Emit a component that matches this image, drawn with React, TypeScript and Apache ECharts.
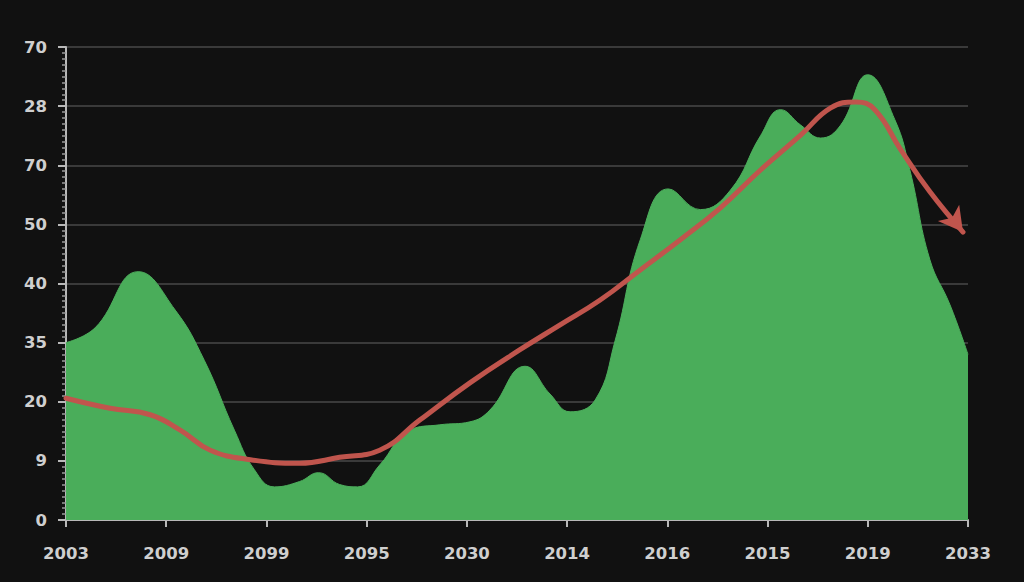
import React, { useEffect, useRef } from "react";
import * as echarts from "echarts";

const xLabels = ["2003", "2009", "2099", "2095", "2030", "2014", "2016", "2015", "2019", "2033"];
const yLabels = ["0", "9", "20", "35", "40", "50", "70", "28", "70"];

// green area: x positions (in label steps) and heights (in gridline steps)
const greenX = [0, 0.29, 0.72, 1.09, 1.38, 1.68, 1.88, 2.08, 2.33, 2.52, 2.73, 2.91, 3.13, 3.43, 3.73, 4.03, 4.23, 4.58, 4.83, 5.03, 5.28, 5.48, 5.73, 6.01, 6.33, 6.63, 6.93, 7.13, 7.33, 7.53, 7.73, 8.0, 8.27, 8.42, 8.62, 8.82, 9.0];
const greenY = [3.0, 3.25, 4.2, 3.55, 2.7, 1.52, 0.85, 0.56, 0.65, 0.8, 0.6, 0.56, 0.93, 1.52, 1.61, 1.66, 1.86, 2.6, 2.13, 1.83, 2.03, 3.04, 4.74, 5.6, 5.25, 5.58, 6.5, 6.94, 6.68, 6.46, 6.68, 7.53, 6.77, 5.92, 4.4, 3.64, 2.8];

// red trend line
const redX = [0, 0.44, 0.84, 1.14, 1.44, 1.84, 2.33, 2.73, 3.13, 3.53, 4.03, 4.53, 4.93, 5.33, 5.73, 6.13, 6.53, 6.93, 7.33, 7.63, 7.88, 8.07, 8.33, 8.62, 8.95];
const redY = [2.06, 1.89, 1.78, 1.52, 1.18, 1.02, 0.96, 1.06, 1.18, 1.69, 2.32, 2.88, 3.3, 3.72, 4.23, 4.74, 5.28, 5.92, 6.51, 6.97, 7.07, 6.94, 6.26, 5.55, 4.87];

export default function App() {
  const ref = useRef<HTMLDivElement>(null);
  useEffect(() => {
    if (!ref.current) return;
    const chart = echarts.init(ref.current, null, { renderer: "svg" });
    const labelColor = "#cfcfcf";
    const greenData = greenX.map((x, i) => [x, greenY[i]]);
    const redData: any[] = redX.map((x, i) => [x, redY[i]]);
    const last = redData.length - 1;
    redData[last] = {
      value: redData[last],
      symbol: "arrow",
      symbolSize: [20, 24],
      symbolRotate: -143,
      itemStyle: { color: "#c0554d" },
    };
    chart.setOption({
      animation: false,
      backgroundColor: "#111111",
      grid: { left: 66, right: 56, top: 47, bottom: 62 },
      xAxis: {
        type: "value",
        min: 0,
        max: 9,
        interval: 1,
        axisLine: { show: true, lineStyle: { color: "#b8b8b8", width: 2 } },
        axisTick: { show: true, length: 7, lineStyle: { color: "#b8b8b8", width: 2 } },
        splitLine: { show: false },
        axisLabel: {
          color: labelColor,
          fontFamily: "DejaVu Sans",
          fontSize: 16.5,
          fontWeight: "bold",
          margin: 25,
          formatter: (v: number) => xLabels[Math.round(v)] ?? "",
        },
      },
      yAxis: {
        type: "value",
        min: 0,
        max: 8,
        interval: 1,
        axisLine: { show: true, lineStyle: { color: "#b8b8b8", width: 2 } },
        axisTick: { show: true, length: 8, lineStyle: { color: "#b8b8b8", width: 2 } },
        minorTick: { show: true, splitNumber: 10, length: 4, lineStyle: { color: "#9a9a9a", width: 1.5 } },
        splitLine: { show: true, lineStyle: { color: "#3a3a3a", width: 2 } },
        axisLabel: {
          color: labelColor,
          fontFamily: "DejaVu Sans",
          fontSize: 16.5,
          fontWeight: "bold",
          margin: 19,
          formatter: (v: number) => yLabels[Math.round(v)] ?? "",
        },
      },
      series: [
        {
          type: "line",
          data: greenData,
          smooth: 0.45,
          symbol: "none",
          lineStyle: { color: "#4cae5c", width: 1 },
          areaStyle: { color: "#4aad5a", opacity: 1 },
          z: 2,
        },
        {
          type: "line",
          data: redData,
          smooth: 0.45,
          symbol: "none",
          showSymbol: true,
          lineStyle: { color: "#c0554d", width: 5, cap: "round" },
          itemStyle: { color: "#c0554d" },
          z: 3,
        },
      ],
    });
    return () => chart.dispose();
  }, []);
  return (
    <div
      ref={ref}
      style={{ position: "fixed", left: 0, top: 0, width: 1024, height: 582 }}
    />
  );
}
